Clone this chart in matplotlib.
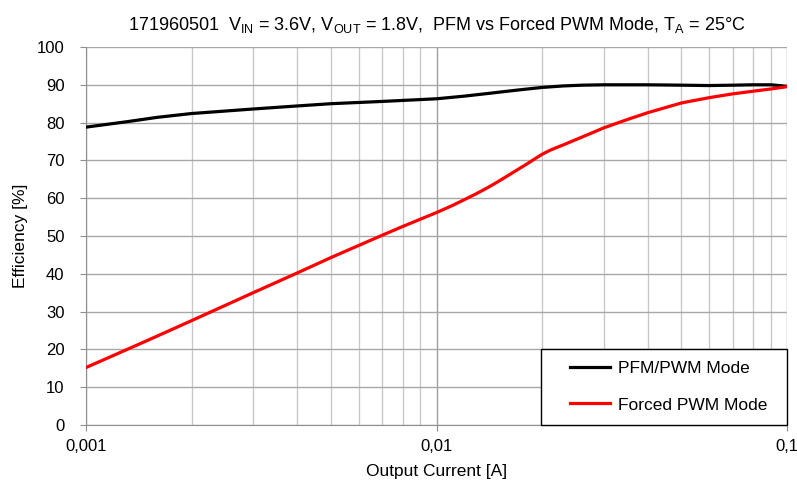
import matplotlib
matplotlib.use("Agg")
import matplotlib.pyplot as plt
from matplotlib.patches import Rectangle
from matplotlib.ticker import FixedLocator, NullFormatter
import numpy as np

plt.rcParams['font.family'] = ['Liberation Sans', 'DejaVu Sans']
plt.rcParams['mathtext.fontset'] = 'custom'
plt.rcParams['mathtext.rm'] = 'Liberation Sans'
plt.rcParams['mathtext.default'] = 'regular'

# PFM/PWM mode efficiency
pfm_current = [0.001, 0.0013, 0.0016, 0.002, 0.003, 0.004, 0.005, 0.007, 0.01, 0.012,
               0.014, 0.017, 0.02, 0.023, 0.026, 0.03, 0.04, 0.05, 0.06, 0.07, 0.08,
               0.09, 0.1]
pfm_eff = [78.8, 80.2, 81.4, 82.4, 83.6, 84.4, 85.0, 85.6, 86.3, 87.0,
           87.7, 88.6, 89.3, 89.7, 89.9, 90.0, 90.0, 89.9, 89.8, 89.9, 90.0,
           90.0, 89.6]

# Forced PWM mode efficiency
pwm_current = [0.001, 0.0015, 0.002, 0.003, 0.004, 0.005, 0.006, 0.007, 0.008, 0.01,
               0.011, 0.012, 0.013, 0.014, 0.015, 0.016, 0.017, 0.018, 0.019, 0.02,
               0.021, 0.022, 0.023, 0.025, 0.03, 0.035, 0.04, 0.05, 0.06, 0.07,
               0.08, 0.09, 0.1]
pwm_eff = [15.2, 22.4, 27.6, 35.0, 40.2, 44.3, 47.5, 50.2, 52.5, 56.2,
           57.9, 59.6, 61.2, 62.8, 64.4, 66.0, 67.5, 68.9, 70.3, 71.6,
           72.6, 73.4, 74.1, 75.5, 78.6, 80.8, 82.6, 85.2, 86.6, 87.6,
           88.3, 88.9, 89.5]

x_ticks = [0.001, 0.01, 0.1]
x_labels = ['0,001', '0,01', '0,1']

fig = plt.figure(figsize=(7.97, 4.82), dpi=100)
ax = fig.add_axes([86/797, 1-425/482, (787-86)/797, (425-47)/482])

ax.plot(pfm_current, pfm_eff, color='black', lw=2.3, label='PFM/PWM Mode', zorder=3)
ax.plot(pwm_current, pwm_eff, color='#ff0000', lw=2.3, label='Forced PWM Mode', zorder=3)

ax.set_xscale('log')
ax.set_xlim(0.001, 0.1)
ax.set_ylim(0, 100)
ax.xaxis.set_major_locator(FixedLocator(x_ticks))
ax.set_xticklabels(x_labels)
minor = [m * d for d in (0.001, 0.01) for m in range(2, 10)]
ax.xaxis.set_minor_locator(FixedLocator(minor))
ax.xaxis.set_minor_formatter(NullFormatter())
ax.set_yticks(np.arange(0, 101, 10))

ax.grid(which='minor', axis='x', color='#c8c8c8', lw=1.0)
ax.grid(which='major', axis='x', color='#a0a0a0', lw=1.0)
ax.grid(which='major', axis='y', color='#a8a8a8', lw=1.0)
ax.set_axisbelow(True)

for side in ('top', 'right'):
    ax.spines[side].set_visible(False)
for side in ('left', 'bottom'):
    ax.spines[side].set_color('#909090')
ax.tick_params(which='major', length=4, color='#909090', labelsize=12)
ax.tick_params(axis='y', pad=11.5)
ax.tick_params(axis='x', pad=6)
ax.tick_params(which='minor', length=0)

ax.set_xlabel('Output Current [A]', fontsize=12.5, labelpad=7)
ax.set_ylabel('Efficiency [%]', fontsize=12.5, labelpad=6)
ax.set_title('171960501  V$_{IN}$ = 3.6V, V$_{OUT}$ = 1.8V,  PFM vs Forced PWM Mode, T$_{A}$ = 25°C',
             fontsize=13, pad=12)

# legend box
x0 = (541 - 86) / 701
ax.add_patch(Rectangle((x0, 0), 1 - x0, (425 - 349) / 378, transform=ax.transAxes,
                       facecolor='white', edgecolor='black', lw=1.0, zorder=4, clip_on=False))
leg = ax.legend(loc='center left', bbox_to_anchor=((570 - 86) / 701, (425 - 386.5) / 378),
                fontsize=12.5, frameon=False, borderpad=0, borderaxespad=0,
                labelspacing=1.25, handlelength=2.3, handletextpad=0.45)
leg.set_zorder(5)

fig.savefig('out.png', dpi=100)
